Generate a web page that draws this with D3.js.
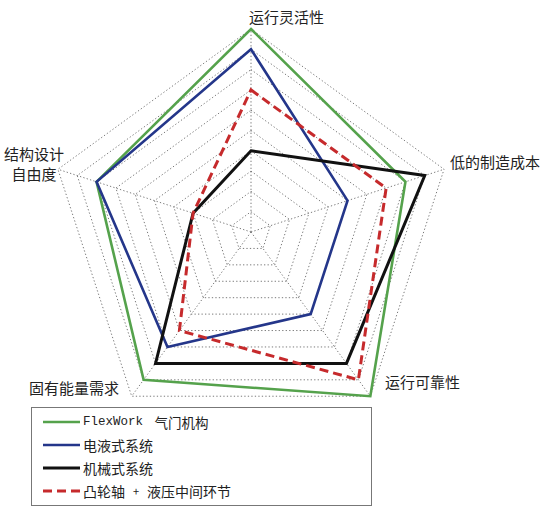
<!DOCTYPE html>
<html>
<head>
<meta charset="utf-8">
<script src="https://cdn.jsdelivr.net/npm/d3@7"></script>
<style>
  body { margin: 0; background: #fff; }
  text { font-family: "Noto Sans CJK SC", sans-serif; fill: #222; }
</style>
</head>
<body>
<svg id="chart" width="550" height="514"></svg>
<script>
// axis names, clockwise from the top
var axes = ["运行灵活性", "低的制造成本", "运行可靠性", "固有能量需求", "结构设计自由度"];
var levels = [1, 2, 3, 4, 5, 6, 7, 8, 9, 10];

// scores per axis (same order as axes)
var flexWork = [10, 8, 10, 9, 8];
var electroHydraulic = [9, 5, 5, 7, 8];
var mechanical = [4, 9, 8, 8, 3];
var camHydraulic = [7, 7, 9, 6, 3];

var seriesNames = ["FlexWork 气门机构", "电液式系统", "机械式系统", "凸轮轴 + 液压中间环节"];

var svg = d3.select("#chart");
var cx = 251, cy = 232, R = 203;

var r = d3.scaleLinear().domain([0, 10]).range([0, R]);
var angle = d3.scaleLinear().domain([0, axes.length]).range([0, 2 * Math.PI]);

function pt(i, v) {
	var a = angle(i);
	return [cx + r(v) * Math.sin(a), cy - r(v) * Math.cos(a)];
}

var line = d3.line();

/*=================================
	GRID
**===============================*/
var grid = svg.append("g");

grid.selectAll("path.ring")
	.data(levels)
	.enter().append("path")
	.attr("class", "ring")
	.attr("d", function(l) { return line(axes.map(function(_, i) { return pt(i, l); })) + "Z"; })
	.attr("fill", "none")
	.attr("stroke", "#7a7a7a")
	.attr("stroke-width", 1)
	.attr("stroke-dasharray", "1.3,2.2");

grid.selectAll("line.spoke")
	.data(axes)
	.enter().append("line")
	.attr("class", "spoke")
	.attr("x1", cx).attr("y1", cy)
	.attr("x2", function(_, i) { return pt(i, 10)[0]; })
	.attr("y2", function(_, i) { return pt(i, 10)[1]; })
	.attr("stroke", "#7a7a7a")
	.attr("stroke-width", 1)
	.attr("stroke-dasharray", "1.3,2.2");

/*=================================
	SERIES
**===============================*/
var series = [
	{ name: seriesNames[0], values: flexWork,         color: "#55a24c", width: 2.6, dash: null },
	{ name: seriesNames[1], values: electroHydraulic, color: "#24368a", width: 2.6, dash: null },
	{ name: seriesNames[2], values: mechanical,       color: "#111111", width: 3,   dash: null },
	{ name: seriesNames[3], values: camHydraulic,     color: "#c62a2c", width: 3,   dash: "9,5" }
];

svg.append("g").selectAll("path.series")
	.data(series)
	.enter().append("path")
	.attr("class", "series")
	.attr("d", function(s) { return line(s.values.map(function(v, i) { return pt(i, v); })) + "Z"; })
	.attr("fill", "none")
	.attr("stroke", function(s) { return s.color; })
	.attr("stroke-width", function(s) { return s.width; })
	.attr("stroke-dasharray", function(s) { return s.dash; })
	.attr("stroke-linejoin", "miter");

/*=================================
	AXIS LABELS
**===============================*/
var labelLayout = [
	{ lines: [axes[0]], x: 249, y: [16], anchor: "start" },
	{ lines: [axes[1]], x: 450, y: [161], anchor: "start" },
	{ lines: [axes[2]], x: 385, y: [381], anchor: "start" },
	{ lines: [axes[3]], x: 119, y: [387], anchor: "end" },
	{ lines: [axes[4].slice(0, 4), axes[4].slice(4)], x: 34, y: [153, 173], anchor: "middle" }
];

labelLayout.forEach(function(lab) {
	lab.lines.forEach(function(t, k) {
		svg.append("text")
			.attr("x", lab.x)
			.attr("y", lab.y[k])
			.attr("text-anchor", lab.anchor)
			.attr("dominant-baseline", "central")
			.style("font-size", "15px")
			.text(t);
	});
});

/*=================================
	LEGEND
**===============================*/
var legend = svg.append("g");
legend.append("rect")
	.attr("x", 31.5).attr("y", 407.5)
	.attr("width", 340).attr("height", 98)
	.attr("fill", "#fff")
	.attr("stroke", "#777")
	.attr("stroke-width", 1);

var rowY = d3.scaleLinear().domain([0, 3]).range([422, 491]);

var rows = legend.selectAll("g.row")
	.data(series)
	.enter().append("g")
	.attr("class", "row")
	.attr("transform", function(_, i) { return "translate(0," + rowY(i) + ")"; });

rows.append("line")
	.attr("x1", 43).attr("x2", 80)
	.attr("stroke", function(s) { return s.color; })
	.attr("stroke-width", function(s) { return s.width; })
	.attr("stroke-dasharray", function(s) { return s.dash ? "9,5" : null; });

rows.each(function(s, i) {
	var t = d3.select(this).append("text")
		.attr("x", 83)
		.attr("dominant-baseline", "central")
		.style("font-size", "14px");
	if (i === 0) {
		t.append("tspan").style("font-family", "'Liberation Mono', monospace").style("font-size", "12.5px").text("FlexWork ");
		t.append("tspan").attr("dx", 4).style("font-size", "13.5px").text("气门机构");
	} else if (i === 3) {
		t.append("tspan").text("凸轮轴");
		t.append("tspan").attr("dx", 8).style("font-size", "11px").text("+");
		t.append("tspan").attr("dx", 8).text("液压中间环节");
	} else {
		t.text(s.name);
	}
});
</script>
</body>
</html>
